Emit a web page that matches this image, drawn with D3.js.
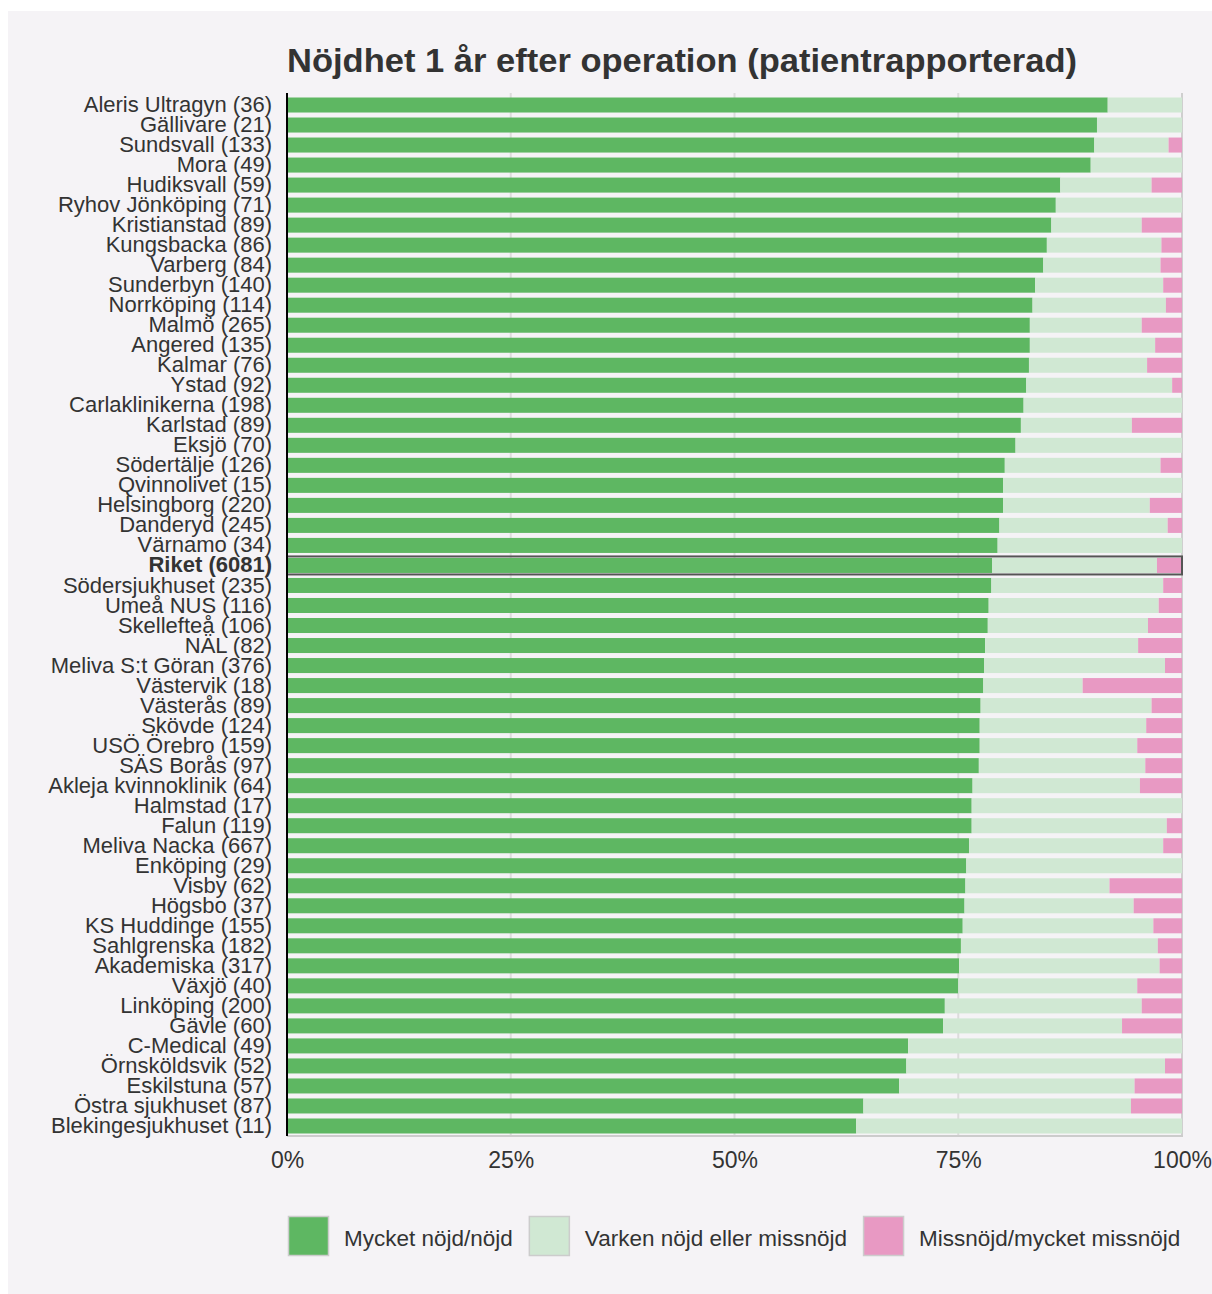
<!DOCTYPE html>
<html>
<head>
<meta charset="utf-8">
<script src="https://cdn.jsdelivr.net/npm/d3@7"></script>
<style>
  html, body { margin: 0; padding: 0; background: #ffffff; }
  svg { display: block; }
</style>
</head>
<body>
<svg id="chart" width="1212" height="1294"></svg>
<script>
const hospitals = ["Aleris Ultragyn","Gällivare","Sundsvall","Mora","Hudiksvall","Ryhov Jönköping","Kristianstad","Kungsbacka","Varberg","Sunderbyn","Norrköping","Malmö","Angered","Kalmar","Ystad","Carlaklinikerna","Karlstad","Eksjö","Södertälje","Qvinnolivet","Helsingborg","Danderyd","Värnamo","Riket","Södersjukhuset","Umeå NUS","Skellefteå","NÄL","Meliva S:t Göran","Västervik","Västerås","Skövde","USÖ Örebro","SÄS Borås","Akleja kvinnoklinik","Halmstad","Falun","Meliva Nacka","Enköping","Visby","Högsbo","KS Huddinge","Sahlgrenska","Akademiska","Växjö","Linköping","Gävle","C-Medical","Örnsköldsvik","Eskilstuna","Östra sjukhuset","Blekingesjukhuset"];
const counts = [36,21,133,49,59,71,89,86,84,140,114,265,135,76,92,198,89,70,126,15,220,245,34,6081,235,116,106,82,376,18,89,124,159,97,64,17,119,667,29,62,37,155,182,317,40,200,60,49,52,57,87,11];
const satisfied = [91.7,90.5,90.2,89.8,86.4,85.9,85.4,84.9,84.5,83.6,83.3,83.0,83.0,82.9,82.6,82.3,82.0,81.4,80.2,80.0,80.0,79.6,79.4,78.8,78.7,78.4,78.3,78.0,77.9,77.8,77.5,77.4,77.4,77.3,76.6,76.5,76.5,76.2,75.9,75.8,75.7,75.5,75.3,75.1,75.0,73.5,73.3,69.4,69.2,68.4,64.4,63.6];
const neutral = [8.3,9.5,8.3,10.2,10.2,14.1,10.1,12.8,13.1,14.3,14.9,12.5,14.0,13.2,16.3,17.7,12.4,18.6,17.4,20.0,16.4,18.8,20.6,18.4,19.2,19.0,17.9,17.1,20.2,11.1,19.1,18.6,17.6,18.6,18.7,23.5,21.8,21.7,24.1,16.1,18.9,21.3,22.0,22.4,20.0,22.0,20.0,30.6,28.9,26.3,29.9,36.4];
const dissatisfied = [0,0,1.5,0,3.4,0,4.5,2.3,2.4,2.1,1.8,4.5,3.0,3.9,1.1,0,5.6,0,2.4,0,3.6,1.6,0,2.8,2.1,2.6,3.8,4.9,1.9,11.1,3.4,4.0,5.0,4.1,4.7,0,1.7,2.1,0,8.1,5.4,3.2,2.7,2.5,5.0,4.5,6.7,0,1.9,5.3,5.7,0];
const seriesKeys = ["Mycket nöjd/nöjd","Varken nöjd eller missnöjd","Missnöjd/mycket missnöjd"];
const seriesColors = ["#5eb762","#d0e8d3","#e899c3"];
const tickValues = [0,25,50,75,100];
const titleText = "Nöjdhet 1 år efter operation (patientrapporterad)";
const highlight = "Riket";

const rows = hospitals.map((h, i) => ({
  label: h + " (" + counts[i] + ")",
  name: h,
  [seriesKeys[0]]: satisfied[i],
  [seriesKeys[1]]: neutral[i],
  [seriesKeys[2]]: dissatisfied[i]
}));

const svg = d3.select("#chart");
const font = "'Liberation Sans', Arial, sans-serif";
const textCol = "#333333";

// panel background
svg.append("rect").attr("x", 8).attr("y", 11).attr("width", 1204).attr("height", 1283).attr("fill", "#f5f3f6");

const x = d3.scaleLinear().domain([0, 100]).range([287, 1182]);
const y = d3.scaleBand().domain(rows.map(d => d.label)).range([95, 1136]).paddingInner(0.25).paddingOuter(0.125);

// title
svg.append("text").attr("x", 287).attr("y", 72).attr("font-family", font).attr("font-size", 34).attr("font-weight", "bold")
  .attr("fill", textCol).attr("textLength", 790).attr("lengthAdjust", "spacingAndGlyphs").text(titleText);

// grid
svg.append("g").selectAll("line").data(tickValues.filter(t => t > 0)).join("line")
  .attr("x1", d => x(d)).attr("x2", d => x(d)).attr("y1", 93).attr("y2", 1136)
  .attr("stroke", d => d === 100 ? "#cfcfcf" : "#dcdcdc").attr("stroke-width", 2);

// bottom baseline
svg.append("line").attr("x1", 287).attr("x2", 1183).attr("y1", 1136).attr("y2", 1136).attr("stroke", "#cccccc").attr("stroke-width", 2);

// stacked bars
const stack = d3.stack().keys(seriesKeys);
const stacked = stack(rows);
const color = d3.scaleOrdinal().domain(seriesKeys).range(seriesColors);
svg.append("g").selectAll("g").data(stacked).join("g").attr("fill", d => color(d.key))
  .selectAll("rect").data(d => d).join("rect")
  .attr("x", d => x(d[0])).attr("width", d => Math.max(0, x(d[1]) - x(d[0])))
  .attr("y", d => y(d.data.label)).attr("height", y.bandwidth());

// highlight outline
const hl = rows.find(r => r.name === highlight);
svg.append("rect").attr("x", x(0)).attr("y", y(hl.label) - 1.5).attr("width", x(100) - x(0)).attr("height", y.bandwidth() + 3)
  .attr("fill", "none").attr("stroke", "#555555").attr("stroke-width", 2);

// y axis labels
const yAxis = d3.axisLeft(y).tickSize(0).tickPadding(15);
const yg = svg.append("g").attr("transform", "translate(287,0)").call(yAxis);
yg.select(".domain").remove();
yg.selectAll("text").attr("font-family", font).attr("font-size", 22).attr("fill", textCol)
  .attr("font-weight", d => d.startsWith(highlight + " ") ? "bold" : "normal");

// left axis line
svg.append("line").attr("x1", 287).attr("x2", 287).attr("y1", 93).attr("y2", 1136).attr("stroke", "#000000").attr("stroke-width", 2);

// x axis labels
const xAxis = d3.axisBottom(x).tickValues(tickValues).tickSize(0).tickPadding(0).tickFormat(d => d + "%");
const xg = svg.append("g").attr("transform", "translate(0,1152)").call(xAxis);
xg.select(".domain").remove();
xg.selectAll("text").attr("font-family", font).attr("font-size", 23).attr("fill", textCol).attr("dy", "0.71em");

// legend
const lg = svg.append("g").attr("transform", "translate(288,1216)");
let cx = 0;
seriesKeys.forEach((k, i) => {
  const g = lg.append("g").attr("transform", `translate(${cx},0)`);
  g.append("rect").attr("x", 0.5).attr("y", 0.5).attr("width", 40).attr("height", 39).attr("fill", color(k)).attr("stroke", "#cccccc").attr("stroke-width", 1.5);
  const t = g.append("text").attr("x", 56).attr("y", 22).attr("dy", "0.35em").attr("font-family", font).attr("font-size", 22.5).attr("fill", textCol).text(k);
  cx += 56 + t.node().getComputedTextLength() + 16;
});
</script>
</body>
</html>
